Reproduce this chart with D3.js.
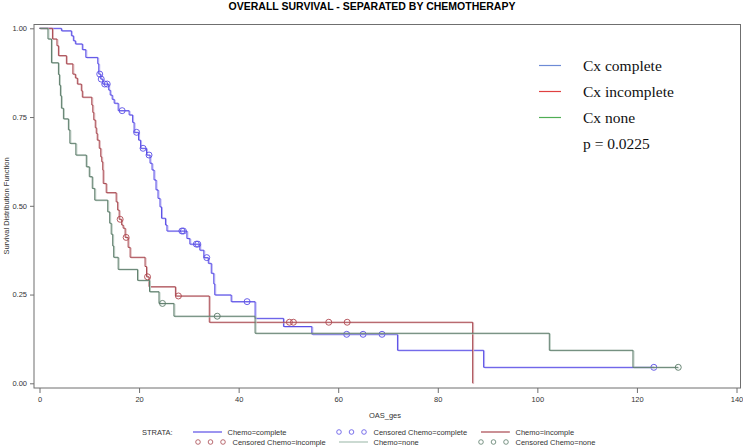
<!DOCTYPE html>
<html><head><meta charset="utf-8">
<script src="https://cdn.jsdelivr.net/npm/d3@7"></script>
<style>html,body{margin:0;padding:0;background:#fff;}svg{display:block;}</style>
</head><body>
<svg id="chart" width="743" height="448"></svg>
<script>
// ---- data ----
const title = "OVERALL SURVIVAL - SEPARATED BY CHEMOTHERAPY";
const xTicks = [0, 20, 40, 60, 80, 100, 120, 140];
const yTicks = [0, 0.25, 0.5, 0.75, 1.0];

// Chemo=complete : event times and survival after each step
const completeTimes = [0, 4.4, 6.4, 6.8, 7.2, 8.6, 9.3, 11.7, 11.9, 12.3, 12.7, 13.9, 14.2, 14.6, 15.0, 15.8, 18.0, 18.7, 19.0, 19.9, 20.3, 21.5, 22.2, 22.6, 23.0, 23.4, 23.8, 24.2, 24.5, 25.3, 25.6, 29.6, 30.2, 32.2, 33.0, 33.9, 34.5, 35.0, 35.2, 38.5, 43.3, 49.0, 54.7, 71.9, 89.2];
const completeSurv  = [1, 0.993, 0.979, 0.965, 0.956, 0.94, 0.918, 0.9, 0.871, 0.857, 0.843, 0.826, 0.812, 0.80, 0.789, 0.768, 0.756, 0.735, 0.707, 0.685, 0.662, 0.643, 0.62, 0.601, 0.573, 0.545, 0.521, 0.497, 0.465, 0.446, 0.429, 0.408, 0.392, 0.375, 0.354, 0.338, 0.31, 0.28, 0.249, 0.23, 0.183, 0.16, 0.138, 0.093, 0.045];
const completeCensor = [12.1, 12.4, 13.1, 13.6, 16.6, 19.5, 20.8, 22.0, 28.6, 28.9, 31.5, 31.8, 33.6, 41.7, 61.7, 65.0, 68.8, 123.4];
const completeEnd = 123.4;

// Chemo=incomple
const incompleteTimes = [0, 2.6, 3.5, 3.8, 5.4, 6.7, 7.2, 7.6, 8.4, 8.6, 10.5, 10.7, 10.9, 11.2, 11.4, 11.6, 12.0, 12.3, 12.5, 12.7, 12.8, 13.4, 15.4, 15.7, 16.0, 16.5, 16.8, 17.2, 17.8, 18.2, 21.2, 21.5, 22.0, 27.3, 34.1, 87.0];
const incompleteSurv  = [1, 0.97, 0.951, 0.923, 0.9, 0.871, 0.86, 0.843, 0.824, 0.806, 0.784, 0.763, 0.742, 0.72, 0.704, 0.685, 0.662, 0.638, 0.624, 0.601, 0.563, 0.537, 0.511, 0.488, 0.462, 0.446, 0.437, 0.411, 0.383, 0.355, 0.329, 0.3, 0.272, 0.246, 0.172, 0];
const incompleteCensor = [16.2, 17.4, 21.7, 27.9, 50.2, 51.0, 58.1, 61.8];
const incompleteEnd = 87.0;

// Chemo=none
const noneTimes = [0, 1.7, 2.4, 3.8, 4.0, 4.2, 4.4, 4.8, 5.8, 6.1, 7.3, 9.4, 10.0, 10.6, 11.1, 13.7, 14.1, 14.4, 14.7, 14.9, 15.8, 19.7, 22.1, 24.0, 27.0, 43.3, 102.4, 119.2];
const noneSurv  = [1, 0.97, 0.903, 0.87, 0.84, 0.81, 0.775, 0.745, 0.714, 0.676, 0.643, 0.61, 0.582, 0.549, 0.516, 0.483, 0.451, 0.42, 0.387, 0.355, 0.321, 0.29, 0.258, 0.225, 0.189, 0.141, 0.093, 0.045];
const noneCensor = [24.7, 35.7, 128.3];
const noneEnd = 128.3;

const insetLabels = ["Cx complete", "Cx incomplete", "Cx none"];
const pValueText = "p = 0.0225";

// ---- drawing ----
const svg = d3.select("#chart");
const frame = {left: 34, top: 24.5, right: 740.5, bottom: 388};
const x = d3.scaleLinear().domain([0, 140]).range([39.5, 736.5]);
const y = d3.scaleLinear().domain([0, 1]).range([383.3, 28.3]);

const series = [
  {times: completeTimes, surv: completeSurv, censor: completeCensor, end: completeEnd, color: "#5a4fe6", shadow: "#b9b3f5", ccol: "#5a4fe6"},
  {times: incompleteTimes, surv: incompleteSurv, censor: incompleteCensor, end: incompleteEnd, color: "#a8474f", shadow: "#ddb4b7", ccol: "#b0474f"},
  {times: noneTimes, surv: noneSurv, censor: noneCensor, end: noneEnd, color: "#5b7b69", shadow: "#bccdc3", ccol: "#5b7b69"}
];

// title
svg.append("text").attr("x", 372).attr("y", 10).attr("text-anchor", "middle")
  .attr("font-family", "Liberation Sans, Arial, sans-serif").attr("font-weight", "bold")
  .attr("font-size", 10.5).attr("fill", "#000").text(title);

// frame
svg.append("rect").attr("x", frame.left).attr("y", frame.top)
  .attr("width", frame.right - frame.left).attr("height", frame.bottom - frame.top)
  .attr("fill", "none").attr("stroke", "#6f6f6f").attr("stroke-width", 1);

// y axis
const yAxis = d3.axisLeft(y).tickValues(yTicks).tickFormat(d3.format(".2f")).tickSize(4).tickPadding(3);
const gy = svg.append("g").attr("transform", `translate(${frame.left},0)`).call(yAxis);
gy.select(".domain").remove();
gy.selectAll("line").attr("stroke", "#6f6f6f");
gy.selectAll("text").attr("font-family", "Liberation Sans, Arial, sans-serif").attr("font-size", 7.5).attr("fill", "#333");

// x axis
const xAxis = d3.axisBottom(x).tickValues(xTicks).tickFormat(d3.format("d")).tickSize(5).tickPadding(4);
const gx = svg.append("g").attr("transform", `translate(0,${frame.bottom})`).call(xAxis);
gx.select(".domain").remove();
gx.selectAll("line").attr("stroke", "#6f6f6f");
gx.selectAll("text").attr("font-family", "Liberation Sans, Arial, sans-serif").attr("font-size", 7.5).attr("fill", "#333");

// axis labels
svg.append("text").attr("transform", `translate(9,206) rotate(-90)`).attr("text-anchor", "middle")
  .attr("font-family", "Liberation Sans, Arial, sans-serif").attr("font-size", 7.5).attr("fill", "#333")
  .text("Survival Distribution Function");
svg.append("text").attr("x", 385).attr("y", 418).attr("text-anchor", "middle")
  .attr("font-family", "Liberation Sans, Arial, sans-serif").attr("font-size", 7.5).attr("fill", "#333")
  .text("OAS_ges");

// curves
function stepValue(s, t) {
  let v = s.surv[0];
  for (let i = 0; i < s.times.length; i++) { if (s.times[i] <= t) v = s.surv[i]; }
  return v;
}
const line = d3.line().x(d => x(d[0])).y(d => y(d[1])).curve(d3.curveStepAfter);
series.forEach(s => {
  const pts = s.times.map((t, i) => [t, s.surv[i]]);
  if (s.times[s.times.length - 1] < s.end) pts.push([s.end, s.surv[s.surv.length - 1]]);
  svg.append("path").attr("d", line(pts)).attr("fill", "none")
    .attr("stroke", s.shadow).attr("stroke-width", 1).attr("transform", "translate(1,0.6)");
  svg.append("path").attr("d", line(pts)).attr("fill", "none")
    .attr("stroke", s.color).attr("stroke-width", 1);
  svg.append("g").selectAll("circle").data(s.censor).join("circle")
    .attr("cx", d => x(d)).attr("cy", d => y(stepValue(s, d))).attr("r", 3)
    .attr("fill", "none").attr("stroke", s.ccol).attr("stroke-width", 0.9);
});

// inset legend (serif)
const insetColors = ["#6d8bd6", "#e04040", "#4fae54"];
insetLabels.forEach((lab, i) => {
  const yy = 65.5 + i * 26;
  svg.append("line").attr("x1", 539).attr("x2", 561).attr("y1", yy).attr("y2", yy)
    .attr("stroke", insetColors[i]).attr("stroke-width", 1.2);
  svg.append("text").attr("x", 583).attr("y", yy + 5).attr("font-family", "Liberation Serif, Times New Roman, serif")
    .attr("font-size", 15.5).attr("fill", "#111").text(lab);
});
svg.append("text").attr("x", 583).attr("y", 65.5 + 3 * 26 + 5).attr("font-family", "Liberation Serif, Times New Roman, serif")
  .attr("font-size", 15.5).attr("fill", "#111").text(pValueText);

// bottom legend
const lf = "Liberation Sans, Arial, sans-serif";
const lg = svg.append("g").attr("font-family", lf).attr("font-size", 7.5).attr("fill", "#333");
lg.append("text").attr("x", 142).attr("y", 435).text("STRATA:");
const legItems = [
  {type: "line", x: 193, y: 432, color: "#5a4fe6", label: "Chemo=complete"},
  {type: "circ", x: 339, y: 432, color: "#5a4fe6", label: "Censored Chemo=complete"},
  {type: "line", x: 481, y: 432, color: "#a8474f", label: "Chemo=incomple"},
  {type: "circ", x: 198, y: 442, color: "#a8474f", label: "Censored Chemo=incomple"},
  {type: "line", x: 339, y: 442, color: "#a9c2b4", label: "Chemo=none"},
  {type: "circ", x: 481, y: 442, color: "#5b7b69", label: "Censored Chemo=none"}
];
legItems.forEach(it => {
  if (it.type === "line") {
    lg.append("line").attr("x1", it.x).attr("x2", it.x + 29).attr("y1", it.y).attr("y2", it.y)
      .attr("stroke", it.color).attr("stroke-width", 1.2);
  } else {
    [0, 12.5, 25].forEach(dx => lg.append("circle").attr("cx", it.x + dx).attr("cy", it.y).attr("r", 2.3)
      .attr("fill", "none").attr("stroke", it.color).attr("stroke-width", 0.8));
  }
  lg.append("text").attr("x", it.x + 34.5).attr("y", it.y + 3).text(it.label);
});
</script>
</body></html>
